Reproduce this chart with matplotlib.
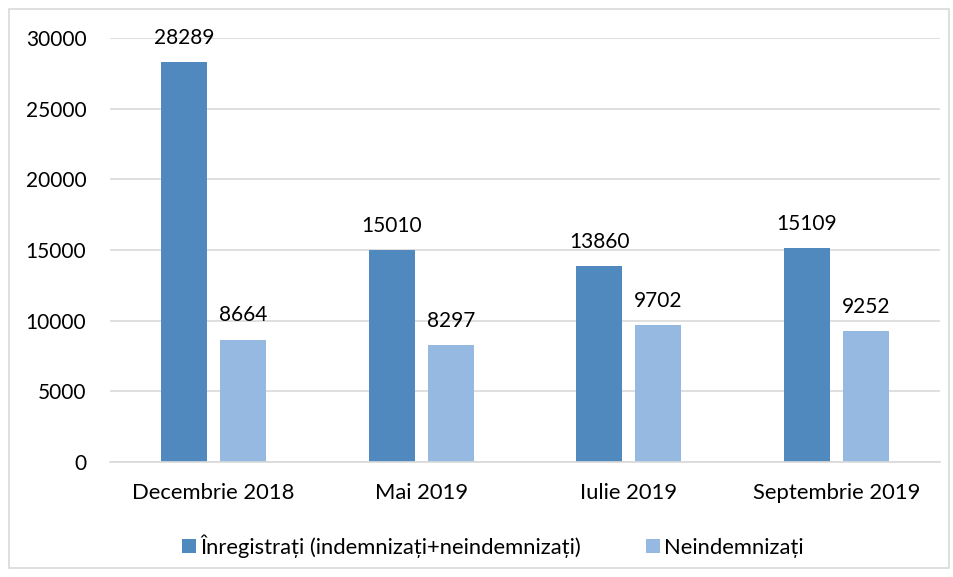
import numpy as np
import matplotlib.pyplot as plt
from matplotlib.patches import Rectangle

categories = ['Decembrie 2018', 'Mai 2019', 'Iulie 2019', 'Septembrie 2019']
inregistrati = [28289, 15010, 13860, 15109]
neindemnizati = [8664, 8297, 9702, 9252]
series_names = ['Înregistrați (indemnizați+neindemnizați)', 'Neindemnizați']

plt.rcParams['font.family'] = ['Lato', 'DejaVu Sans']
plt.rcParams['font.size'] = 15

fig = plt.figure(figsize=(9.54, 5.77), dpi=100)
ax = fig.add_axes([110 / 954, 1 - 462 / 577, 830 / 954, 424 / 577])

x = np.arange(len(categories))
w = 0.222
off = 0.142
b1 = ax.bar(x - off, inregistrati, w, color='#4F89BD', label=series_names[0])
b2 = ax.bar(x + off, neindemnizati, w, color='#95B9E0', label=series_names[1])

for bars, vals in ((b1, inregistrati), (b2, neindemnizati)):
    for rect, v in zip(bars, vals):
        ax.text(rect.get_x() + rect.get_width() / 2, v + 1000, str(v),
                ha='center', va='bottom', fontsize=15, color='#000000')

ax.set_xlim(-0.5, 3.5)
ax.set_ylim(0, 30000)
ax.set_yticks(np.arange(0, 30001, 5000))
ax.set_xticks(x)
ax.set_xticklabels(categories, fontsize=15.8)
ax.yaxis.grid(True, color='#D9D9D9', linewidth=1.2)
ax.set_axisbelow(True)
for s in ['top', 'right', 'left']:
    ax.spines[s].set_visible(False)
ax.spines['bottom'].set_color('#D9D9D9')
ax.spines['bottom'].set_linewidth(1.2)
ax.tick_params(axis='x', length=0, pad=15)
ax.tick_params(axis='y', length=0, pad=17, labelsize=15)

fig.legend(handles=[b1, b2], loc='center', bbox_to_anchor=(493 / 954, 1 - 546 / 577),
           ncol=2, frameon=False, fontsize=15.8, handlelength=0.6, handleheight=0.6,
           handletextpad=0.2, columnspacing=3.0)

fig.patches.append(Rectangle((9 / 954, 1 - 568 / 577), 940 / 954, 559 / 577,
                             transform=fig.transFigure, fill=False,
                             edgecolor='#D9D9D9', linewidth=1.2))

fig.savefig('out.png', dpi=100)
